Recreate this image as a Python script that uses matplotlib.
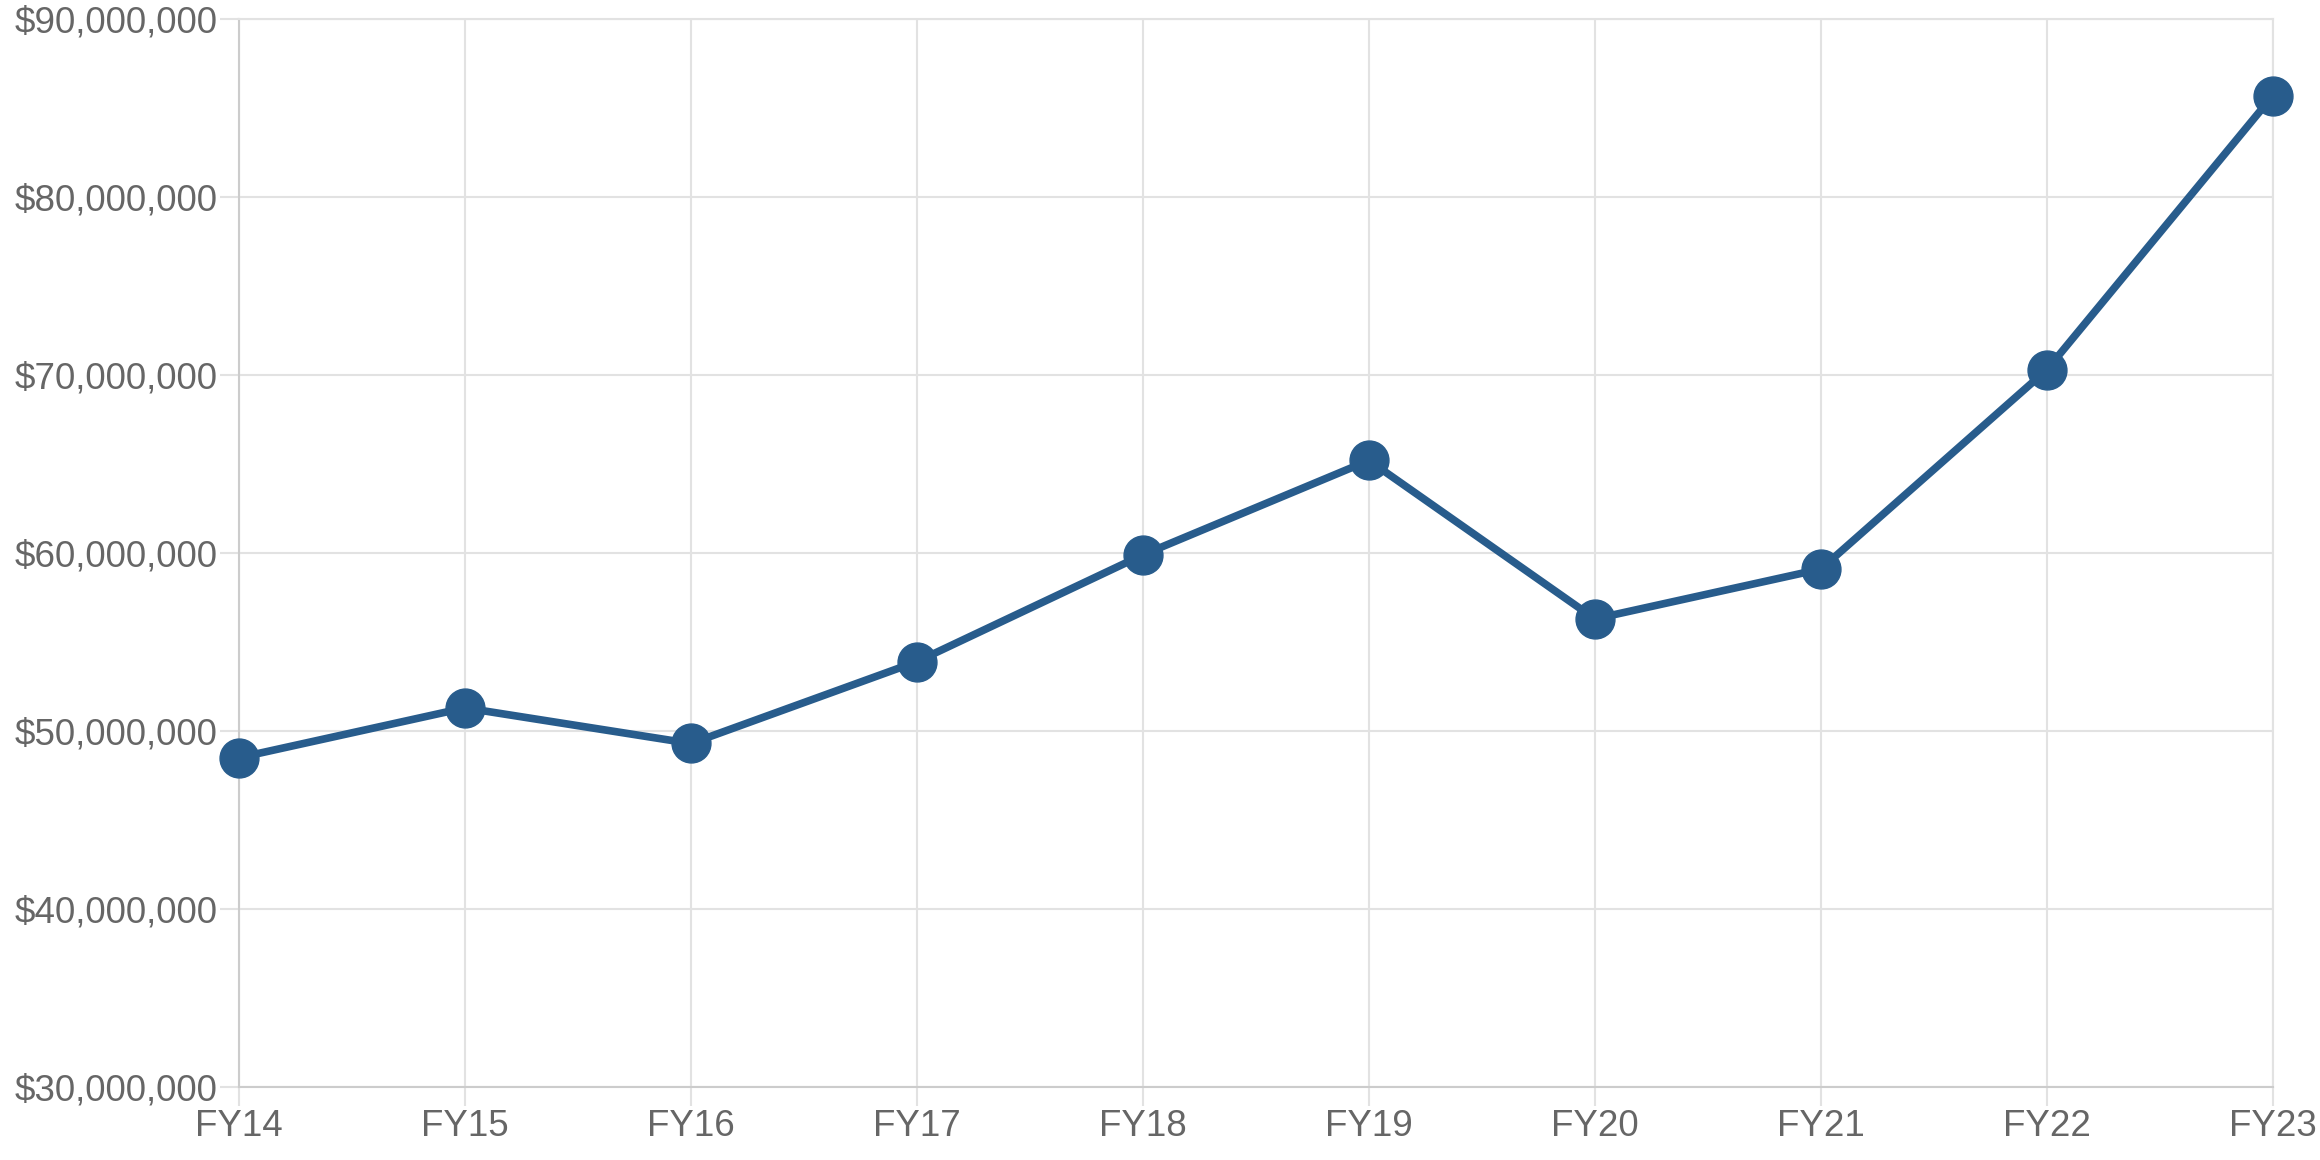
import matplotlib
matplotlib.use('Agg')
import matplotlib.pyplot as plt
from matplotlib.ticker import FuncFormatter

years = ['FY14', 'FY15', 'FY16', 'FY17', 'FY18', 'FY19', 'FY20', 'FY21', 'FY22', 'FY23']
revenue = [48.5e6, 51.3e6, 49.3e6, 53.9e6, 59.9e6, 65.2e6, 56.3e6, 59.1e6, 70.3e6, 85.7e6]
y_ticks = [30e6, 40e6, 50e6, 60e6, 70e6, 80e6, 90e6]

plt.rcParams['font.family'] = ['Liberation Sans', 'DejaVu Sans']

fig = plt.figure(figsize=(23.2, 11.6), dpi=100)
ax = fig.add_axes([0.103, 0.0629, 0.8767, 0.9207])

x = list(range(len(years)))
ax.plot(x, revenue, color='#285c8c', linewidth=5.5, marker='o',
        markersize=28, zorder=3, clip_on=False)

ax.set_xlim(0, len(years) - 1)
ax.set_ylim(30e6, 90e6)
ax.set_xticks(x)
ax.set_xticklabels(years)
ax.set_yticks(y_ticks)
ax.yaxis.set_major_formatter(FuncFormatter(lambda v, p: '${:,.0f}'.format(v)))

ax.grid(True, color='#e2e2e2', linewidth=1.5)
ax.set_axisbelow(True)
for side in ['top', 'right']:
    ax.spines[side].set_color('#e2e2e2')
    ax.spines[side].set_linewidth(1.5)
for side in ['left', 'bottom']:
    ax.spines[side].set_color('#cccccc')
    ax.spines[side].set_linewidth(1.5)

ax.tick_params(axis='both', colors='#e2e2e2', labelcolor='#666666',
               labelsize=26.5, length=14, width=1.5, pad=1.5)

fig.savefig('out.png', dpi=100)
